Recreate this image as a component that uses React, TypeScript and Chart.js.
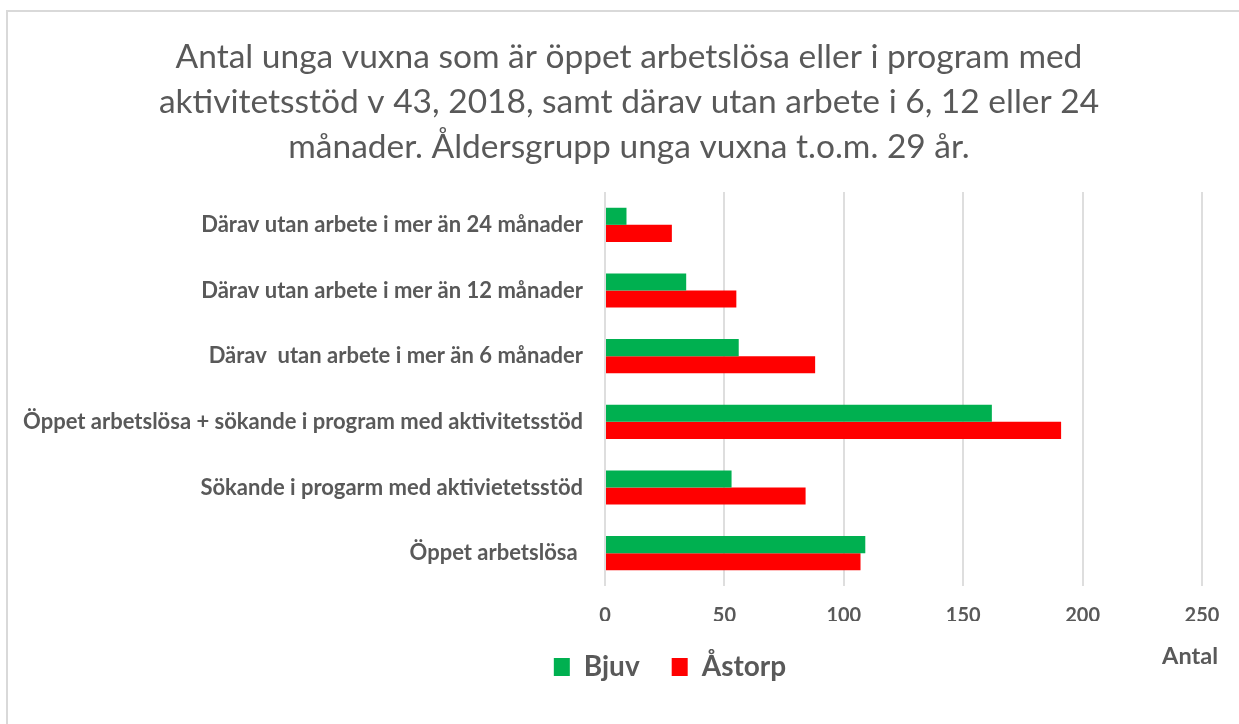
import React, { useEffect, useRef } from "react";
import { Chart, registerables } from "chart.js";

Chart.register(...registerables);

const categories = [
  "Därav utan arbete i mer än 24 månader",
  "Därav utan arbete i mer än 12 månader",
  "Därav  utan arbete i mer än 6 månader",
  "Öppet arbetslösa + sökande i program med aktivitetsstöd",
  "Sökande i progarm med aktivietetsstöd",
  "Öppet arbetslösa ",
];
const bjuv = [9, 34, 56, 162, 53, 109];
const astorp = [28, 55, 88, 191, 84, 107];
const titleLines = [
  "Antal unga vuxna som är öppet arbetslösa eller i program med",
  "aktivitetsstöd v 43, 2018, samt därav utan arbete i 6, 12 eller 24",
  "månader. Åldersgrupp unga vuxna t.o.m. 29 år.",
];
const xAxisTitle = "Antal";

const TEXT = "#595959";
const FONT = "Lato";
const PAD_LEFT = 15;

export default function App() {
  const ref = useRef<HTMLCanvasElement | null>(null);

  useEffect(() => {
    document.body.style.margin = "0";
    const textPlugin = {
      id: "extraText",
      afterLayout(chart: any) {
        // centre the legend where the reference has it
        const lg = chart.legend;
        if (lg) {
          const dx = 670 - (lg.left + lg.right) / 2;
          lg.left += dx;
          lg.right += dx;
        }
      },
      afterDraw(chart: any) {
        const { ctx, chartArea } = chart;
        ctx.save();
        ctx.fillStyle = TEXT;
        ctx.textBaseline = "middle";
        ctx.font = `normal 33.5px ${FONT}`;
        ctx.textAlign = "center";
        titleLines.forEach((line, i) => {
          ctx.fillText(line, 629, 57 + i * 45);
        });
        ctx.font = `bold 23.5px ${FONT}`;
        ctx.textAlign = "right";
        ctx.fillText(xAxisTitle, chartArea.right + 16, chartArea.bottom + 70);
        ctx.restore();
      },
    };
    const chart = new Chart(ref.current as HTMLCanvasElement, {
      type: "bar",
      data: {
        labels: categories,
        datasets: [
          {
            label: "Bjuv",
            data: bjuv,
            backgroundColor: "#00B050",
            borderWidth: 0,
            categoryPercentage: 0.52,
            barPercentage: 1,
          },
          {
            label: "Åstorp",
            data: astorp,
            backgroundColor: "#FF0000",
            borderWidth: 0,
            categoryPercentage: 0.52,
            barPercentage: 1,
          },
        ],
      },
      options: {
        indexAxis: "y",
        animation: false,
        responsive: false,
        layout: { padding: { left: PAD_LEFT, right: 37, top: 192, bottom: 33 } },
        scales: {
          x: {
            min: 0,
            max: 250,
            ticks: {
              stepSize: 50,
              color: TEXT,
              padding: 18,
              font: { family: FONT, size: 20, weight: "bold" },
            },
            grid: { color: "#dedede", lineWidth: 2, drawTicks: false },
            border: { display: false },
            afterFit(scale: any) {
              scale.height = 35;
            },
          },
          y: {
            ticks: {
              color: TEXT,
              padding: 22,
              autoSkip: false,
              font: { family: FONT, size: 22, weight: "bold" },
            },
            grid: { display: false, drawTicks: false },
            border: { display: false },
            afterFit(scale: any) {
              scale.width = 605 - PAD_LEFT;
            },
          },
        },
        plugins: {
          title: { display: false },
          legend: {
            position: "bottom",
            labels: {
              color: TEXT,
              boxWidth: 16,
              boxHeight: 18,
              padding: 32,
              font: { family: FONT, size: 28, weight: "bold" },
            },
          },
          tooltip: { enabled: false },
        },
      },
      plugins: [textPlugin],
    } as any);
    return () => chart.destroy();
  }, []);

  return (
    <div style={{ position: "relative", width: 1239, height: 724, overflow: "hidden", background: "#fff" }}>
      <div
        style={{
          position: "absolute",
          left: 6,
          top: 10,
          right: -10,
          bottom: -10,
          border: "2px solid #d9d9d9",
        }}
      />
      <canvas ref={ref} width={1239} height={724} style={{ position: "absolute", left: 0, top: 0 }} />
    </div>
  );
}
